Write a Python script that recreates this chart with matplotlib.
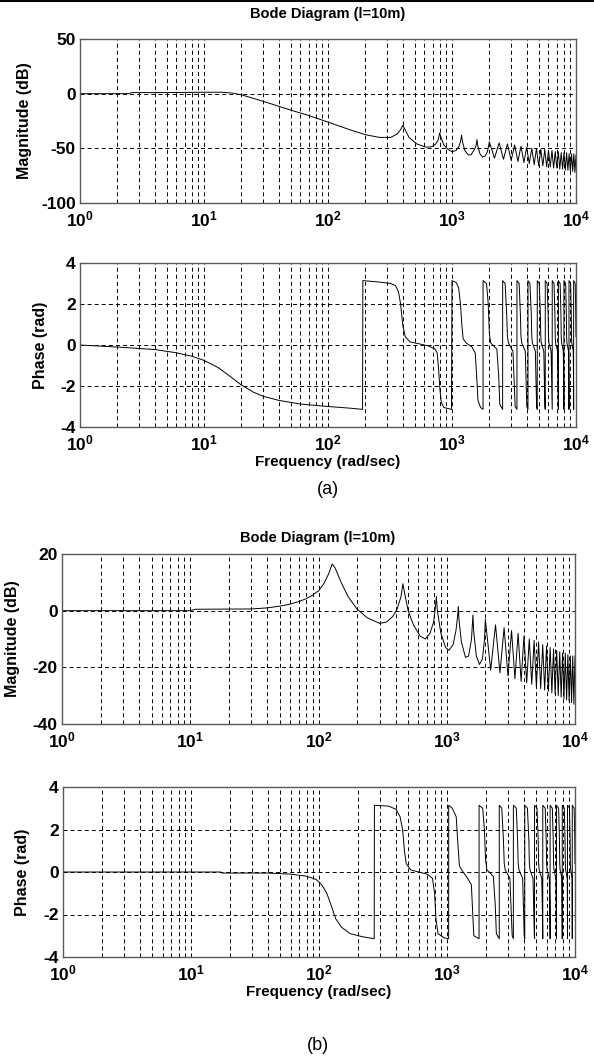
import matplotlib.pyplot as plt
from matplotlib.lines import Line2D
from matplotlib.ticker import NullFormatter

plt.rcParams['font.family'] = ['Liberation Sans', 'DejaVu Sans']
plt.rcParams['mathtext.fontset'] = 'custom'
plt.rcParams['mathtext.rm'] = 'Liberation Sans:bold'
plt.rcParams['mathtext.it'] = 'Liberation Sans:bold'
plt.rcParams['mathtext.bf'] = 'Liberation Sans:bold'
plt.rcParams['axes.unicode_minus'] = False
plt.rcParams['lines.scale_dashes'] = False

# ---- data: (a) magnitude ----
freq_mag_a = [1, 2.5, 2.6, 5, 10, 14, 17, 20, 30, 50, 70, 100, 150, 200, 260, 320,
              360, 385, 400, 415, 450, 520, 620, 690, 740, 775, 795, 815, 860, 930,
              1000, 1080, 1140, 1175, 1195, 1215, 1270, 1350, 1420, 1500, 1560, 1590,
              1610, 1680, 1760, 1850, 1930, 1980, 2000,
              2200, 2400, 2600, 2800, 3000, 3200, 3400, 3600, 3800, 4000, 4200, 4400,
              4600, 4800, 5000, 5200, 5400, 5600, 5800, 6000, 6200, 6400, 6600, 6800,
              7000, 7200, 7400, 7600, 7800, 8000, 8200, 8400, 8600, 8800, 9000, 9200,
              9400, 9600, 9800, 10000]
mag_a = [0, 0, 1, 1, 1.3, 1.3, 0.5, -1, -7, -15, -20, -26, -33, -37.5, -40, -40,
         -37, -33, -29, -32, -40, -46, -49, -48.5, -46, -42, -36, -40, -47, -51,
         -53, -52, -48, -43, -38, -44, -52, -56, -56, -52, -48, -42,
         -47, -55, -58, -57, -53, -47, -44,
         -59, -45, -60, -46, -61, -47, -62, -48, -63, -49, -64, -50,
         -65, -50, -66, -51, -66, -51, -67, -52, -67, -52, -68, -53,
         -68, -53, -69, -54, -69, -54, -70, -54, -70, -55, -71, -55,
         -71, -55, -72, -56]

# ---- (a) phase ----
freq_ph_a = [1, 2, 4, 6, 8, 10, 13, 16, 20, 25, 30, 40, 60, 100, 150, 190, 191,
             250, 320, 350, 370, 385, 400, 420, 460, 550, 650, 730, 760, 780, 800,
             820, 860, 990, 1000, 1080, 1130, 1170, 1200, 1230, 1300, 1450, 1540,
             1580, 1620, 1700, 1780, 1781,
             1900, 1960, 2000, 2050, 2300, 2380, 2430, 2560, 2561,
             2680, 2760, 2800, 2850, 3100, 3180, 3230, 3340, 3341,
             3480, 3560, 3600, 3650, 3900, 3970, 4010, 4100, 4101,
             4250, 4360, 4400, 4450, 4700, 4770, 4810, 4870, 4871,
             5050, 5160, 5200, 5250, 5500, 5570, 5610, 5650, 5651,
             5850, 5960, 6000, 6050, 6300, 6370, 6410, 6430, 6431,
             6650, 6760, 6800, 6850, 7100, 7170, 7205, 7210, 7211,
             7450, 7560, 7600, 7650, 7900, 7970, 7990, 7991,
             8250, 8360, 8400, 8450, 8700, 8760, 8780, 8781,
             9050, 9160, 9200, 9250, 9500, 9560, 9570, 9571, 9850, 9960, 10000]
ph_a = [0, -0.1, -0.22, -0.38, -0.55, -0.75, -1.1, -1.5, -1.95, -2.3, -2.5, -2.7,
        -2.88, -3.0, -3.08, -3.14, 3.14,
        3.08, 3.0, 2.9, 2.6, 2.0, 1.0, 0.4, 0.15, 0.05, -0.05, -0.2, -0.4, -1.2, -2.2,
        -2.8, -3.05, -3.14, 3.14, 3.05, 2.8, 2.0, 1.0, 0.3, 0.1, -0.1, -0.4,
        -1.5, -2.7, -3.05, -3.14, 3.14,
        3.0, 2.0, 0.6, 0.1, -0.2, -1.5, -2.9, -3.14, 3.14,
        3.0, 1.5, 0.4, 0.1, -0.3, -2.0, -3.0, -3.14, 3.14,
        3.0, 1.5, 0.4, 0.1, -0.3, -2.0, -3.0, -3.14, 3.14,
        3.0, 1.5, 0.4, 0.1, -0.3, -2.0, -3.0, -3.14, 3.14,
        3.0, 1.5, 0.4, 0.1, -0.3, -2.0, -3.0, -3.14, 3.14,
        3.0, 1.5, 0.4, 0.1, -0.3, -2.0, -3.0, -3.14, 3.14,
        3.0, 1.5, 0.4, 0.1, -0.3, -2.0, -3.0, -3.14, 3.14,
        3.0, 1.5, 0.4, 0.1, -0.3, -2.0, -3.14, 3.14,
        3.0, 1.5, 0.4, 0.1, -0.3, -2.0, -3.14, 3.14,
        3.0, 1.5, 0.4, 0.1, -0.3, -2.0, -3.14, 3.14, 3.0, 1.5, 0.4]

# ---- (b) magnitude ----
freq_mag_b = [1, 10, 11, 30, 40, 50, 60, 70, 80, 90, 100, 110, 120, 128, 135, 150,
              170, 200, 240, 300, 340, 380, 410, 440, 455, 470, 500, 550, 620, 680,
              740, 790, 815, 830, 845, 900, 980, 1040, 1120, 1180, 1215, 1230, 1245,
              1300, 1400, 1480, 1560, 1600, 1620, 1700, 1800, 1900, 1970, 2000,
              2200, 2400, 2600, 2800, 3000, 3200, 3400, 3600, 3800, 4000, 4200, 4400,
              4600, 4800, 5000, 5200, 5400, 5600, 5800, 6000, 6200, 6400, 6600, 6800,
              7000, 7200, 7400, 7600, 7800, 8000, 8200, 8400, 8600, 8800, 9000, 9200,
              9400, 9600, 9800, 10000]
mag_b = [0, 0, 0.5, 0.6, 1.0, 1.6, 2.3, 3.2, 4.2, 5.5, 7, 9.5, 13, 16.5, 15, 10,
         5, 0.5, -2.5, -4.5, -4, -2, 0.5, 5, 9.5, 6, 0, -5, -9, -10,
         -8, -4, 1, 5, 0, -8, -13, -14, -12, -7, -2, 1.5, -3,
         -11, -16.5, -16, -10, -1.5, -7, -16, -19, -17, -10, -3,
         -21, -5, -22, -6, -23, -7, -24, -8, -25, -9, -25.5, -10,
         -26, -10.5, -27, -11, -27.5, -12, -28, -12.5, -28.5, -13, -29, -13.5,
         -29.5, -14, -30, -14.5, -30.5, -15, -31, -15, -31.5, -15.5, -32, -16,
         -32.5, -16, -33, -16]

# ---- (b) phase ----
freq_ph_b = [1, 17, 17.5, 40, 60, 80, 95, 105, 115, 125, 135, 150, 175, 220, 270,
             271, 350, 400, 430, 450, 465, 480, 520, 600, 700, 770, 800, 820, 850,
             950, 1030, 1031, 1100, 1180, 1220, 1250, 1300, 1450, 1550, 1590, 1620,
             1780, 1781,
             1900, 1960, 2000, 2050, 2300, 2380, 2430, 2560, 2561,
             2680, 2760, 2800, 2850, 3100, 3180, 3230, 3300, 3301,
             3480, 3560, 3600, 3650, 3900, 3970, 4010, 4050, 4051,
             4250, 4360, 4400, 4450, 4700, 4770, 4810, 4830, 4831,
             5050, 5160, 5200, 5250, 5500, 5570, 5600, 5601,
             5850, 5960, 6000, 6050, 6300, 6370, 6390, 6391,
             6650, 6760, 6800, 6850, 7100, 7170, 7171,
             7450, 7560, 7600, 7650, 7900, 7950, 7951,
             8250, 8360, 8400, 8450, 8700, 8740, 8741,
             9050, 9160, 9200, 9250, 9500, 9520, 9521, 9850, 9960, 10000]
ph_b = [0, 0, -0.05, -0.05, -0.1, -0.2, -0.35, -0.6, -1.0, -1.6, -2.2, -2.6, -2.9,
        -3.05, -3.14, 3.14, 3.1, 2.95, 2.6, 2.0, 1.0, 0.4, 0.1, 0, -0.1, -0.3,
        -1.0, -2.2, -2.9, -3.1, -3.14, 3.14, 3.0, 2.6, 1.2, 0.3, 0.1, -0.3, -0.6,
        -2.0, -3.0, -3.14, 3.14,
        3.0, 2.0, 0.6, 0.1, -0.2, -1.5, -2.9, -3.14, 3.14,
        3.0, 1.5, 0.4, 0.1, -0.3, -2.0, -3.0, -3.14, 3.14,
        3.0, 1.5, 0.4, 0.1, -0.3, -2.0, -3.0, -3.14, 3.14,
        3.0, 1.5, 0.4, 0.1, -0.3, -2.0, -3.0, -3.14, 3.14,
        3.0, 1.5, 0.4, 0.1, -0.3, -2.0, -3.14, 3.14,
        3.0, 1.5, 0.4, 0.1, -0.3, -2.0, -3.14, 3.14,
        3.0, 1.5, 0.4, 0.1, -0.3, -3.14, 3.14,
        3.0, 1.5, 0.4, 0.1, -0.3, -3.14, 3.14,
        3.0, 1.5, 0.4, 0.1, -0.3, -3.14, 3.14,
        3.0, 1.5, 0.4, 0.1, -0.3, -3.14, 3.14, 3.0, 1.5, 0.4]

x_ticks = [1, 10, 100, 1000, 10000]
x_tick_labels = [r'$10^{0}$', r'$10^{1}$', r'$10^{2}$', r'$10^{3}$', r'$10^{4}$']
mag_a_ticks = [-100, -50, 0, 50]
mag_b_ticks = [-40, -20, 0, 20]
phase_ticks = [-4, -2, 0, 2, 4]

W, H = 594, 1057


def add_panel(fig, left, top, right, bottom):
    return fig.add_axes([left / W, 1 - bottom / H, (right - left) / W, (bottom - top) / H])


def style(ax, yticks, ylabel, ylabel_px):
    ax.set_xscale('log')
    ax.set_xlim(1, 1e4)
    ax.set_ylim(yticks[0], yticks[-1])
    ax.set_yticks(yticks)
    ax.set_yticklabels([str(t) for t in yticks], fontweight='bold')
    ax.set_xticks(x_ticks)
    ax.set_xticklabels(x_tick_labels)
    ax.xaxis.set_minor_formatter(NullFormatter())
    dash = (0, (2.9, 2.2))
    ax.grid(True, which='major', color='k', linestyle=dash, linewidth=0.7)
    ax.grid(True, which='minor', axis='x', color='k', linestyle=dash, linewidth=0.7)
    for s in ax.spines.values():
        s.set_color('#5a5a5a')
        s.set_linewidth(1.0)
    ax.tick_params(which='both', direction='in', length=0, labelsize=12.5)
    ax.tick_params(axis='x', pad=5)
    ax.tick_params(axis='y', pad=3)
    ax.set_ylabel(ylabel, fontsize=11.5, fontweight='bold')
    # ylabel_px is the right edge of the rotated label, in picture pixels
    pos = ax.get_position()
    ax.yaxis.set_label_coords((ylabel_px / W - pos.x0) / pos.width, 0.5)


fig = plt.figure(figsize=(W / 100, H / 100), dpi=100)
fig.add_artist(Line2D([0, 1], [1 - 1 / H, 1 - 1 / H], transform=fig.transFigure,
                      color='k', linewidth=1.5))

ax1 = add_panel(fig, 80, 39, 576, 203)
ax1.plot(freq_mag_a, mag_a, color='k', linewidth=0.7)
style(ax1, mag_a_ticks, 'Magnitude (dB)', 32)

ax2 = add_panel(fig, 80, 263, 576, 427)
ax2.plot(freq_ph_a, ph_a, color='k', linewidth=0.7)
style(ax2, phase_ticks, 'Phase (rad)', 48)
ax2.set_xlabel('Frequency (rad/sec)', fontsize=11, fontweight='bold', labelpad=1)

ax3 = add_panel(fig, 62, 554, 575, 724)
ax3.plot(freq_mag_b, mag_b, color='k', linewidth=0.7)
style(ax3, mag_b_ticks, 'Magnitude (dB)', 20)

ax4 = add_panel(fig, 63, 787, 575, 957)
ax4.plot(freq_ph_b, ph_b, color='k', linewidth=0.7)
style(ax4, phase_ticks, 'Phase (rad)', 30)
ax4.set_xlabel('Frequency (rad/sec)', fontsize=11, fontweight='bold', labelpad=1)

fig.text(328 / W, 1 - 14 / H, 'Bode Diagram (l=10m)', fontsize=10.5,
         fontweight='bold', ha='center', va='center')
fig.text(318 / W, 1 - 538 / H, 'Bode Diagram (l=10m)', fontsize=10.5,
         fontweight='bold', ha='center', va='center')
fig.text(328 / W, 1 - 490 / H, '(a)', fontsize=13, ha='center', va='center')
fig.text(318 / W, 1 - 1045 / H, '(b)', fontsize=13, ha='center', va='center')

fig.savefig('out.png', dpi=100)
